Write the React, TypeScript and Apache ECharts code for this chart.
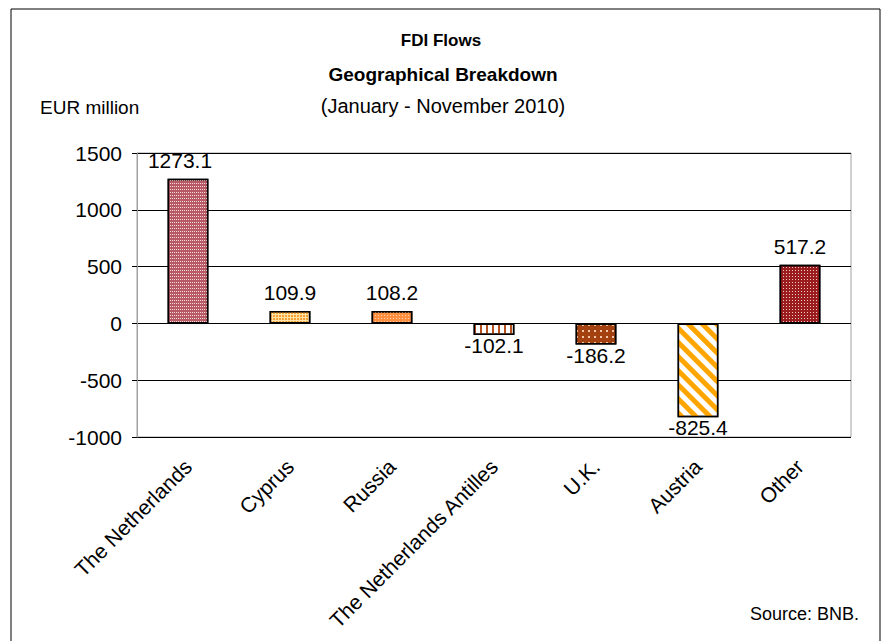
import React, { useEffect, useRef } from "react";
import * as echarts from "echarts";

const categories = ["The Netherlands", "Cyprus", "Russia", "The Netherlands Antilles", "U.K.", "Austria", "Other"];
const values = [1273.1, 109.9, 108.2, -102.1, -186.2, -825.4, 517.2];
const yTicks = { min: -1000, max: 1500, interval: 500 };

const FONT = "'Liberation Sans', Arial, sans-serif";

const styles = [
  { color: "#b85a66", decal: { symbol: "rect", symbolSize: 1, color: "#f6dde0", dashArrayX: [1, 1], dashArrayY: [1, 2] } },
  { color: "#ffe3a8", decal: { symbol: "rect", symbolSize: 1, color: "#f5a030", dashArrayX: [2, 1], dashArrayY: [2, 1] } },
  { color: "#ff9040", decal: { symbol: "rect", symbolSize: 1, color: "#ffd0b0", dashArrayX: [1, 2], dashArrayY: [1, 2] } },
  { color: "#ffffff", decal: { symbol: "rect", symbolSize: 1, color: "#b5501f", dashArrayX: [2, 4], dashArrayY: [1, 0] } },
  { color: "#a34210", decal: { symbol: "rect", symbolSize: 1, color: "#f3c8a8", dashArrayX: [2, 4], dashArrayY: [2, 4] } },
  { color: "#ffffff", decal: { symbol: "rect", symbolSize: 1, color: "#ffa500", dashArrayX: [1, 0], dashArrayY: [5, 5], rotation: Math.PI / 4 } },
  { color: "#9b1c1c", decal: { symbol: "rect", symbolSize: 1, color: "#f0c8c8", dashArrayX: [1, 2], dashArrayY: [1, 2] } },
];

export default function App() {
  const ref = useRef<HTMLDivElement>(null);
  useEffect(() => {
    document.body.style.margin = "0";
    const chart = echarts.init(ref.current!, undefined, { renderer: "svg" });
    chart.setOption({
      animation: false,
      backgroundColor: "#ffffff",
      textStyle: { fontFamily: FONT },
      grid: {
        left: 137, top: 153, width: 714, height: 284,
        show: true, borderColor: "#a0a0a0", borderWidth: 1, backgroundColor: "transparent",
      },
      xAxis: {
        type: "category",
        data: categories,
        axisLine: { show: false, onZero: false },
        axisTick: { show: false },
        axisLabel: {
          rotate: 45, interval: 0, margin: 26,
          color: "#000", fontSize: 21, fontFamily: FONT,
        },
      },
      yAxis: {
        type: "value",
        min: yTicks.min, max: yTicks.max, interval: yTicks.interval,
        axisLine: { show: true, lineStyle: { color: "#a0a0a0" } },
        axisTick: { show: true, length: 5, lineStyle: { color: "#000" } },
        axisLabel: { color: "#000", fontSize: 21, margin: 15, fontFamily: FONT, formatter: (v: number) => String(v) },
        splitLine: { show: true, lineStyle: { color: "#000", width: 1 } },
      },
      series: [
        {
          type: "bar",
          barWidth: "40%",
          data: values.map((v, i) => ({
            value: v,
            itemStyle: { color: styles[i].color, decal: styles[i].decal, borderColor: "#000", borderWidth: 1.5 },
            label: {
              position: v >= 0 ? "top" : "bottom",
              distance: v >= 0 ? 8 : 0,
              offset: i === 0 ? [-8, 0] : [0, 0],
            },
          })),
          label: {
            show: true, color: "#000", fontSize: 21, fontFamily: FONT,
            formatter: (p: any) => p.value.toFixed(1),
          },
        },
      ],
      graphic: [
        { type: "rect", shape: { x: 11, y: 9, width: 869, height: 660 }, style: { fill: "none", stroke: "#000", lineWidth: 1 }, silent: true },
        { type: "text", x: 441, y: 40, style: { text: "FDI Flows", font: `bold 17px ${FONT}`, fill: "#000", align: "center", verticalAlign: "middle" } },
        { type: "text", x: 443, y: 74, style: { text: "Geographical Breakdown", font: `bold 19px ${FONT}`, fill: "#000", align: "center", verticalAlign: "middle" } },
        { type: "text", x: 443, y: 106, style: { text: "(January - November 2010)", font: `20px ${FONT}`, fill: "#000", align: "center", verticalAlign: "middle" } },
        { type: "text", x: 40, y: 107, style: { text: "EUR million", font: `19px ${FONT}`, fill: "#000", align: "left", verticalAlign: "middle" } },
        { type: "text", x: 859, y: 614, style: { text: "Source: BNB.", font: `18px ${FONT}`, fill: "#000", align: "right", verticalAlign: "middle" } },
      ],
    });
    return () => chart.dispose();
  }, []);
  return <div ref={ref} style={{ width: 882, height: 641, position: "absolute", left: 0, top: 0 }} />;
}
